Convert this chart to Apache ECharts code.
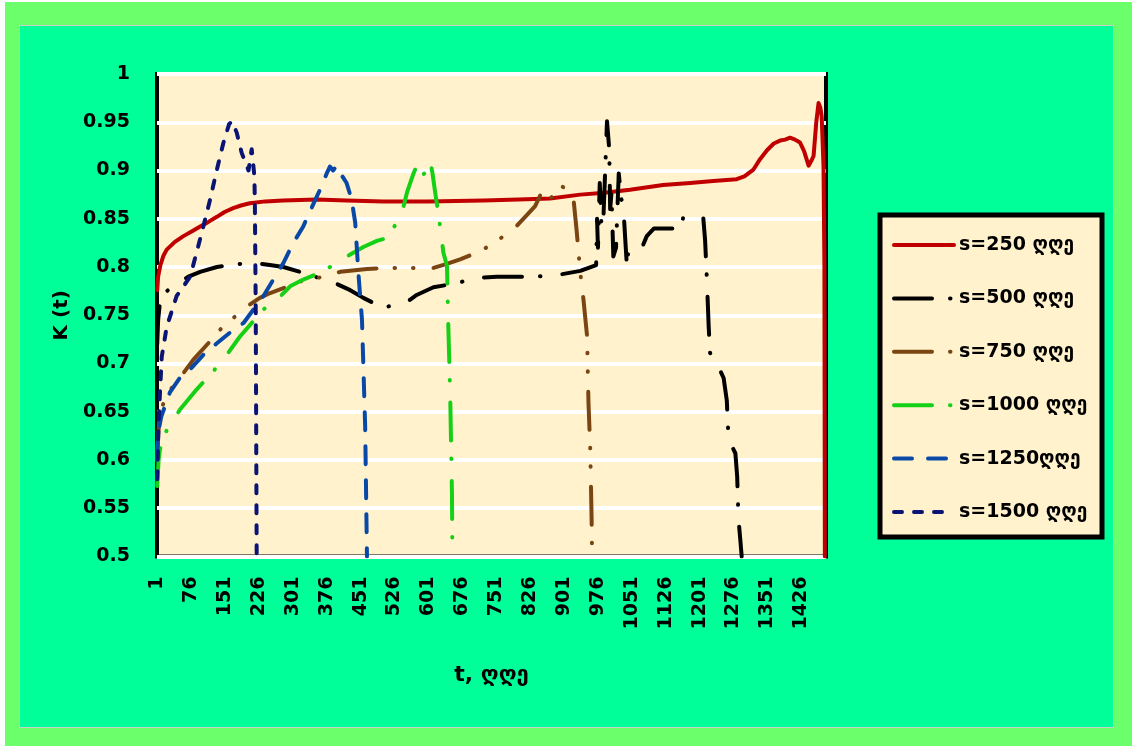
<!DOCTYPE html>
<html>
<head>
<meta charset="utf-8">
<script src="https://cdn.jsdelivr.net/npm/echarts@6/dist/echarts.min.js"></script>
<style>
  html, body { margin: 0; padding: 0; background: #ffffff; width: 1134px; height: 751px; overflow: hidden; }
  #outer { position: absolute; left: 5px; top: 2px; width: 1127px; height: 744px; background: #6CFF6C; }
  #inner { position: absolute; left: 19px; top: 25px; width: 1095px; height: 703px; background: #00FF99;
           border: 1px solid #C8D0C8; box-sizing: border-box; }
  #chart { position: absolute; left: 0; top: 0; width: 1134px; height: 751px; }
</style>
</head>
<body>
<div id="outer"></div>
<div id="inner"></div>
<div id="chart"></div>
<script>
// Tick labels along t (every 75 days starting at day 1)
const tTicks = [1, 76, 151, 226, 301, 376, 451, 526, 601, 676, 751, 826, 901, 976, 1051, 1126, 1201, 1276, 1351, 1426];

// Series names
const seriesNames = ['s=250 ღღე', 's=500 ღღე', 's=750 ღღე', 's=1000 ღღე', 's=1250ღღე', 's=1500 ღღე'];

// K(t) readings, [t, K]
const s250 = [[1,0.776],[3,0.79],[8,0.802],[15,0.812],[22,0.818],[40,0.826],[59,0.832],[78,0.837],[96,0.842],[115,0.847],[133,0.852],[150,0.857],[169,0.861],[188,0.864],[206,0.866],[240,0.868],[280,0.869],[354,0.870],[420,0.869],[501,0.868],[600,0.868],[723,0.869],[800,0.870],[870,0.871],[937,0.875],[990,0.877],[1047,0.880],[1120,0.885],[1180,0.887],[1231,0.889],[1283,0.891],[1300,0.894],[1320,0.901],[1335,0.912],[1350,0.921],[1365,0.928],[1379,0.931],[1390,0.932],[1401,0.934],[1412,0.932],[1423,0.929],[1432,0.92],[1442,0.905],[1448,0.91],[1453,0.915],[1459,0.95],[1464,0.970],[1468,0.965],[1471,0.956],[1475,0.904],[1477,0.8],[1478,0.5]];

const s500 = [[1,0.72],[3,0.745],[7,0.763],[15,0.772],[30,0.778],[44,0.782],[70,0.790],[96,0.795],[133,0.80],[177,0.803],[221,0.804],[250,0.802],[280,0.80],[324,0.794],[369,0.787],[400,0.782],[428,0.776],[457,0.768],[487,0.761],[510,0.759],[538,0.761],[560,0.766],[575,0.771],[612,0.779],[649,0.782],[678,0.785],[715,0.789],[752,0.790],[826,0.790],[878,0.791],[937,0.796],[966,0.801],[972,0.802],[974,0.85],[976,0.82],[980,0.887],[984,0.84],[988,0.85],[992,0.9],[996,0.951],[1001,0.922],[1003,0.86],[1006,0.877],[1010,0.811],[1016,0.82],[1022,0.897],[1028,0.87],[1032,0.863],[1040,0.801],[1043,0.815],[1069,0.815],[1084,0.832],[1100,0.840],[1158,0.840],[1165,0.852],[1209,0.851],[1213,0.828],[1217,0.787],[1221,0.738],[1224,0.711],[1239,0.70],[1254,0.685],[1261,0.662],[1265,0.621],[1280,0.607],[1284,0.583],[1287,0.538],[1291,0.517],[1294,0.5]];

const s750 = [[1,0.60],[3,0.625],[7,0.649],[20,0.665],[35,0.676],[51,0.685],[81,0.704],[114,0.721],[144,0.737],[169,0.747],[199,0.759],[228,0.768],[251,0.773],[280,0.778],[317,0.785],[369,0.790],[406,0.795],[465,0.798],[502,0.799],[575,0.799],[612,0.799],[640,0.803],[671,0.808],[715,0.816],[752,0.827],[789,0.839],[815,0.852],[837,0.863],[852,0.878],[860,0.873],[870,0.870],[892,0.885],[910,0.879],[915,0.878],[922,0.870],[929,0.837],[933,0.815],[937,0.794],[944,0.766],[952,0.728],[955,0.66],[959,0.611],[962,0.538],[963,0.5]];

const s1000 = [[1,0.573],[4,0.60],[7,0.611],[22,0.631],[51,0.652],[88,0.673],[125,0.692],[155,0.709],[184,0.728],[214,0.744],[236,0.756],[266,0.766],[295,0.780],[324,0.787],[361,0.794],[398,0.804],[428,0.813],[458,0.821],[487,0.827],[509,0.830],[531,0.846],[546,0.863],[554,0.878],[568,0.897],[576,0.906],[583,0.904],[590,0.896],[598,0.900],[605,0.91],[610,0.897],[616,0.877],[624,0.852],[634,0.815],[642,0.801],[645,0.738],[649,0.670],[653,0.566],[654,0.5]];

const s1250 = [[1,0.60],[3,0.628],[10,0.645],[29,0.670],[51,0.685],[74,0.694],[103,0.709],[133,0.721],[162,0.732],[192,0.742],[214,0.756],[236,0.770],[258,0.787],[280,0.804],[302,0.825],[324,0.842],[347,0.866],[361,0.880],[376,0.897],[383,0.904],[390,0.90],[398,0.905],[405,0.898],[420,0.887],[431,0.870],[439,0.846],[446,0.794],[454,0.745],[461,0.635],[465,0.5]];

const s1500 = [[1,0.58],[4,0.64],[11,0.707],[22,0.738],[44,0.770],[74,0.790],[88,0.815],[103,0.842],[118,0.870],[133,0.901],[147,0.928],[160,0.948],[166,0.951],[172,0.945],[177,0.939],[188,0.918],[199,0.905],[203,0.90],[206,0.91],[210,0.922],[214,0.92],[216,0.894],[217,0.866],[219,0.75],[221,0.5]];

const seriesData = [s250, s500, s750, s1000, s1250, s1500];
const colors = ['#C00000', '#000000', '#7B4513', '#16D016', '#0A48A8', '#0A1475'];
const LW = 4;
// dash patterns in pixels (round caps add the line width to every dash)
const dashes = ['solid', [38, 18, 0.5, 22], [38, 18, 0.5, 18, 0.5, 20], [38, 18, 0.5, 22], [18, 16], [8, 12]];

const FONT = 'DejaVu Sans';

const chart = echarts.init(document.getElementById('chart'), null, { renderer: 'canvas' });

chart.setOption({
  animation: false,
  backgroundColor: 'transparent',
  grid: {
    left: 157, top: 74, width: 669, height: 482.5,
    show: true, backgroundColor: '#FFF2CC', borderColor: '#000000', borderWidth: 4,
    containLabel: false
  },
  graphic: [{
    type: 'rect', z: 0,
    shape: { x: 880, y: 215, width: 222, height: 322 },
    style: { fill: '#FFF2CC', stroke: '#000000', lineWidth: 5 }
  }],
  legend: {
    z: 10,
    orient: 'vertical',
    left: 892, top: 235,
    itemWidth: 60, itemHeight: 20, itemGap: 33.4,
    padding: 0,
    data: seriesNames.map((n, i) => ({
      name: n,
      itemStyle: { opacity: 0 },
      lineStyle: { color: colors[i], width: LW, type: dashes[i], cap: 'round' }
    })),
    textStyle: { fontFamily: FONT, fontWeight: 'bold', fontSize: 19, color: '#000', lineHeight: 20 },
    selectedMode: false
  },
  xAxis: {
    type: 'value',
    min: 0.5, max: 1480.5,
    name: 't, ღღე',
    nameLocation: 'middle',
    nameGap: 108,
    nameTextStyle: { fontFamily: FONT, fontWeight: 'bold', fontSize: 22, color: '#000' },
    axisLine: { show: false },
    axisTick: { show: false },
    splitLine: { show: false },
    axisLabel: {
      customValues: tTicks,
      rotate: 90,
      margin: 20,
      formatter: v => String(v),
      fontFamily: FONT, fontWeight: 'bold', fontSize: 19, color: '#000'
    }
  },
  yAxis: {
    type: 'value',
    min: 0.5, max: 1, interval: 0.05,
    name: 'K (t)',
    nameLocation: 'middle',
    nameGap: 84,
    nameTextStyle: { fontFamily: FONT, fontWeight: 'bold', fontSize: 20, color: '#000' },
    axisLine: { show: false },
    axisTick: { show: false },
    splitLine: { show: true, lineStyle: { color: '#FFFFFF', width: 4 } },
    axisLabel: {
      margin: 27,
      fontFamily: FONT, fontWeight: 'bold', fontSize: 19, color: '#000',
      formatter: v => String(Math.round(v * 100) / 100)
    }
  },
  series: seriesData.map((d, i) => ({
    name: seriesNames[i],
    type: 'line',
    data: d,
    symbol: 'none',
    showSymbol: false,
    smooth: false,
    clip: true,
    color: colors[i],
    lineStyle: { color: colors[i], width: LW, type: dashes[i], cap: 'round', join: 'round' },
    emphasis: { disabled: true }
  }))
});
</script>
</body>
</html>
